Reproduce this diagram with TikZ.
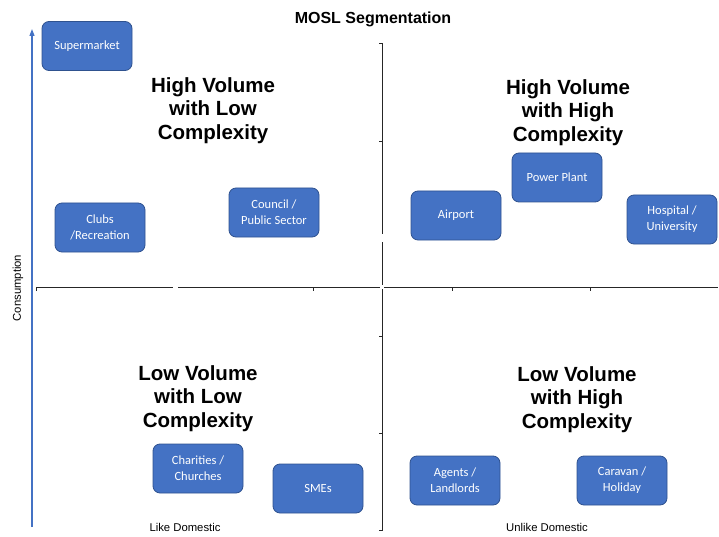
\documentclass[tikz,border=0pt]{standalone}
\usepackage{fontspec}
\setmainfont{Liberation Sans}
\newfontfamily\boxfont{Carlito}
\usepackage{tikz}
\usetikzlibrary{arrows.meta}

\definecolor{segblue}{HTML}{4472C4}
\definecolor{segedge}{HTML}{2F528F}

\begin{document}
\begin{tikzpicture}[x=1pt, y=-1pt,
  segbox/.style={draw=segedge, line width=0.8pt, rounded corners=7pt, fill=segblue,
    minimum width=90pt, minimum height=49pt, align=center, text=white,
    font=\boxfont\fontsize{12.5}{16}\selectfont, inner sep=2pt},
  quad/.style={align=center, font=\bfseries\fontsize{20.5}{23.5}\selectfont},
  axlbl/.style={font=\fontsize{11.3}{13}\selectfont},
  axis/.style={line width=0.8pt, black!85},
  arr/.style={-{Triangle[length=7pt, width=5pt]}, line width=1.2pt, segblue},
]
\useasboundingbox (0,0) rectangle (719,537);

% ── Title ──
\node[font=\bfseries\fontsize{16}{19}\selectfont] (title) at (373,19.5) {MOSL Segmentation};

% ── Axes ──
\draw[axis] (36,291) -- (36,287) -- (173,287);
\draw[axis] (178,287) -- (380,287);
\draw[axis] (384,287) -- (718,287);
\draw[axis] (313,287) -- (313,291);
\draw[axis] (452,287) -- (452,291);
\draw[axis] (590,287) -- (590,291);
\draw[axis] (379,43) -- (382,43) -- (382,234);
\draw[axis] (382,242) -- (382,285);
\draw[axis] (382,289) -- (382,530) -- (379,530);
\draw[axis] (379,141) -- (382,141);
\draw[axis] (379,336) -- (382,336);
\draw[axis] (379,433) -- (382,433);

\coordinate (ybase) at (32,527);
\coordinate (ytop) at (32,29);
\draw[arr] (ybase) -- (ytop);

% ── Axis labels ──
\node[axlbl, rotate=90] (cons) at (18,288) {Consumption};
\node[axlbl] (like) at (185,527) {Like Domestic};
\node[axlbl] (unlike) at (547,527) {Unlike Domestic};

% ── Quadrant headings ──
\node[quad] (hvlc) at (213,110.5) {High Volume\\with Low\\Complexity};
\node[quad] (hvhc) at (568,112.5) {High Volume\\with High\\Complexity};
\node[quad] (lvlc) at (198,398.5) {Low Volume\\with Low\\Complexity};
\node[quad] (lvhc) at (577,399.5) {Low Volume\\with High\\Complexity};

% ── Segment boxes ──
\node[segbox] (supermkt) at (87,46) {Supermarket};
\node[segbox] (clubs) at (100,227.5) {Clubs\\/Recreation};
\node[segbox] (council) at (274,212.5) {Council /\\Public Sector};
\node[segbox] (airport) at (456,215.5) {Airport};
\node[segbox] (power) at (557,177.5) {Power Plant};
\node[segbox] (hospital) at (672,219.5) {Hospital /\\University};
\node[segbox] (charity) at (198,468.5) {Charities /\\Churches};
\node[segbox] (smes) at (318,488.5) {SMEs};
\node[segbox] (agents) at (455,480.5) {Agents /\\Landlords};
\node[segbox] (caravan) at (622,480.5) {Caravan /\\Holiday};
\end{tikzpicture}
\end{document}
